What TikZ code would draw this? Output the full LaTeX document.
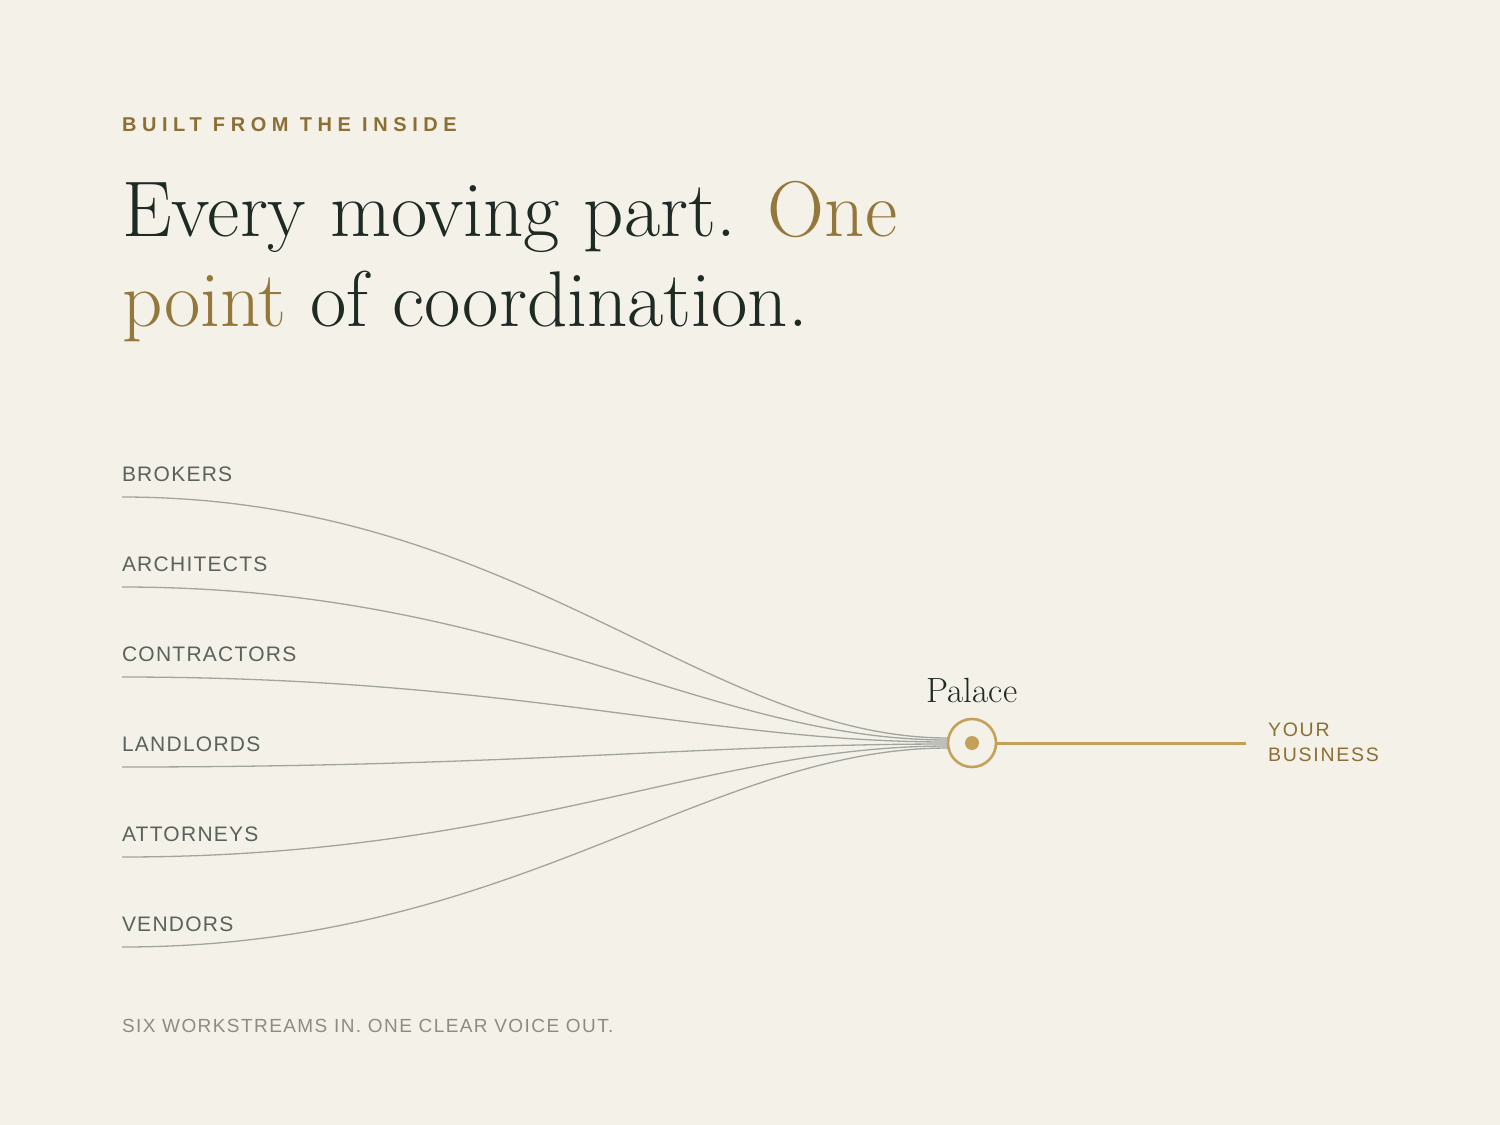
\documentclass[tikz,border=0pt]{standalone}
\usepackage{fontspec}
\newfontfamily\kickerfont[LetterSpace=28]{Liberation Sans}
\newfontfamily\lblfont[LetterSpace=6]{Liberation Sans}
\newfontfamily\footfont[LetterSpace=7.5]{Liberation Sans}
\newfontfamily\bizfont[LetterSpace=9]{Liberation Sans}
\definecolor{bg}{HTML}{F4F1E9}
\definecolor{ink}{HTML}{1E2B25}
\definecolor{goldtxt}{HTML}{94773A}
\definecolor{goldk}{HTML}{8C6F35}
\definecolor{goldc}{HTML}{C4A15A}
\definecolor{lbl}{HTML}{59625C}
\definecolor{foot}{HTML}{8B8C86}
\definecolor{feedc}{HTML}{A0A59F}
\tikzset{
  txt/.style={anchor=base west, inner sep=0pt, outer sep=0pt},
  kicker/.style={txt, text=goldk, font=\kickerfont\bfseries\fontsize{20}{24}\selectfont},
  headline/.style={txt, text=ink, font=\fontsize{79}{94}\selectfont},
  srclabel/.style={txt, text=lbl, font=\lblfont\fontsize{21}{25}\selectfont},
  footnote/.style={txt, text=foot, font=\footfont\fontsize{19}{23}\selectfont},
  biz/.style={txt, text=goldk, font=\bizfont\fontsize{19.5}{24}\selectfont},
  hubname/.style={anchor=base, inner sep=0pt, text=ink, font=\fontsize{35}{42}\selectfont},
  feed/.style={draw=feedc, line width=1.3pt},
  hubring/.style={circle, draw=goldc, line width=2.6pt, fill=bg, minimum size=48pt, inner sep=0pt},
  hubdot/.style={circle, fill=goldc, minimum size=14pt, inner sep=0pt},
  outline/.style={draw=goldc, line width=3pt}
}
\begin{document}
\begin{tikzpicture}[x=1pt,y=-1pt]
\fill[bg] (0,0) rectangle (1500,1125);
\useasboundingbox (0,0) rectangle (1500,1125);

\node[kicker] (kick) at (122,131) {BUILT FROM THE INSIDE};
\node[headline] (h1) at (122,236) {Every moving part. \textcolor{goldtxt}{One}};
\node[headline] (h2) at (122,326) {\textcolor{goldtxt}{point} of coordination.};

\foreach \name [count=\i] in {BROKERS,ARCHITECTS,CONTRACTORS,LANDLORDS,ATTORNEYS,VENDORS}{
  \node[srclabel] (l\i) at (122,{481+90*(\i-1)}) {\name};
  \coordinate (s\i) at (122,{497+90*(\i-1)});
  \coordinate (e\i) at (948,{736+2*\i});
  \draw[feed] (s\i) .. controls +(394,0) and +(-243,0) .. (e\i);
}

\node[hubring] (hub) at (972,743) {};
\node[hubdot] (dot) at (hub.center) {};
\coordinate (out) at (1246,743);
\draw[outline] (hub.east) -- (out);
\node[hubname] (pal) at (972,702) {Palace};
\node[biz] (yb1) at (1268,736) {YOUR};
\node[biz] (yb2) at (1268,761) {BUSINESS};

\node[footnote] (ft) at (122,1032) {SIX WORKSTREAMS IN. ONE CLEAR VOICE OUT.};
\end{tikzpicture}
\end{document}
